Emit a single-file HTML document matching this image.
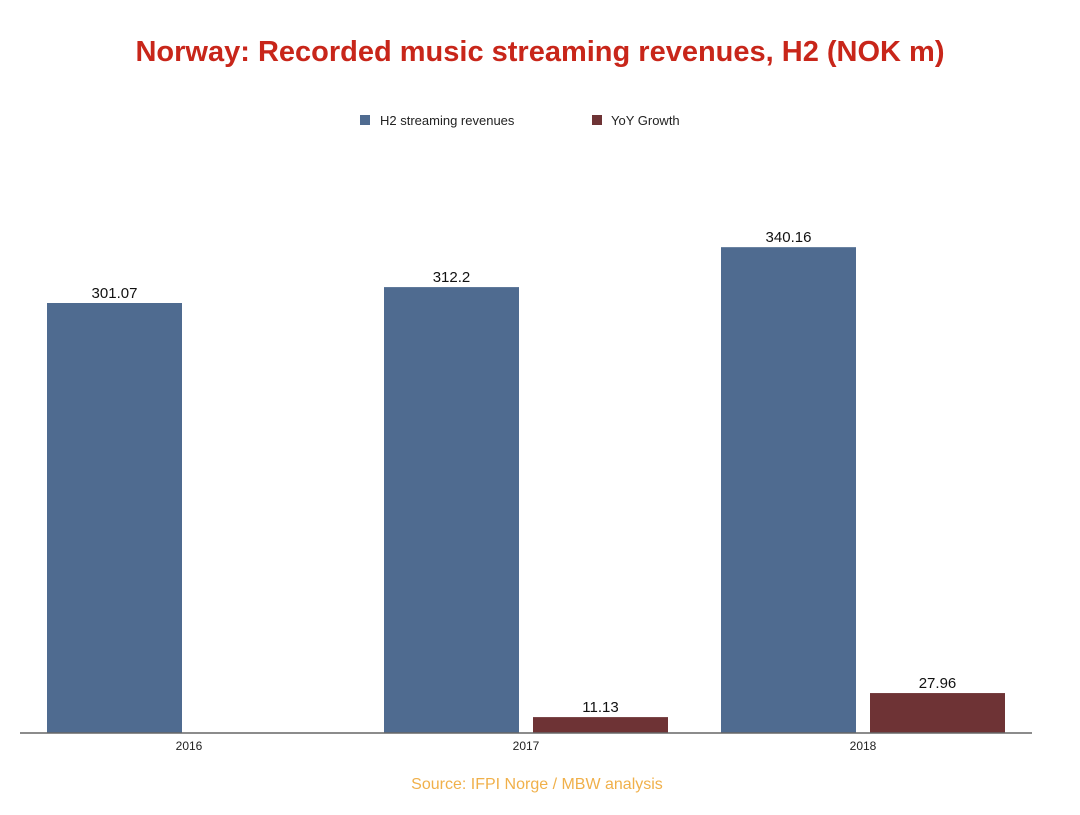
<!DOCTYPE html>
<html><head><meta charset="utf-8">
<style>
body{margin:0;background:#fff;font-family:"Liberation Sans",sans-serif;}
svg text{font-family:"Liberation Sans",sans-serif;}
</style></head>
<body>
<svg width="1080" height="810" viewBox="0 0 1080 810" xmlns="http://www.w3.org/2000/svg">
<text x="540" y="61" text-anchor="middle" font-size="29" font-weight="bold" fill="#c8261a">Norway: Recorded music streaming revenues, H2 (NOK m)</text>
<g>
<rect x="360" y="115" width="10" height="10" fill="#4f6b90"/>
<text x="380" y="125" font-size="13" fill="#222">H2 streaming revenues</text>
<rect x="592" y="115" width="10" height="10" fill="#6e3335"/>
<text x="611" y="125" font-size="13" fill="#222">YoY Growth</text>
</g>
<g id="plot"></g>
<line x1="20" y1="733" x2="1032" y2="733" stroke="#666" stroke-width="1.5"/>
<text x="537" y="789" text-anchor="middle" font-size="16" fill="#f0b04a">Source: IFPI Norge / MBW analysis</text>
</svg>
<script>
const categories = ["2016","2017","2018"];
const streaming = [301.07, 312.2, 340.16];
const growth = [null, 11.13, 27.96];
const valueLabels = ["301.07","312.2","340.16"];
const growthLabels = ["", "11.13", "27.96"];

const NS="http://www.w3.org/2000/svg";
const plot=document.getElementById('plot');
const baseY=733, scale=430/301.07;
const groupStart=47, groupW=337, barW=135, gap=14;
function yPos(v){return baseY - v*scale;}
function xGroup(i){return groupStart + i*groupW;}
function mk(tag,attrs){const e=document.createElementNS(NS,tag);for(const k in attrs)e.setAttribute(k,attrs[k]);return e;}
categories.forEach((c,i)=>{
  const x0=xGroup(i);
  const y=yPos(streaming[i]);
  const b=mk('rect',{x:x0,y:y,width:barW,height:baseY-y,fill:'#4f6b90'});
  
  
  plot.appendChild(b);
  const t=mk('text',{x:x0+barW/2,y:y-5,'text-anchor':'middle','font-size':'15',fill:'#111'});
  t.textContent=valueLabels[i];
  
  
  plot.appendChild(t);
  if(growth[i]!=null){
    const gx=x0+barW+gap, gy=yPos(growth[i]);
    const g=mk('rect',{x:gx,y:gy,width:barW,height:baseY-gy,fill:'#6e3335'});
    
    
    plot.appendChild(g);
    const gt=mk('text',{x:gx+barW/2,y:gy-5,'text-anchor':'middle','font-size':'15',fill:'#111'});
    gt.textContent=growthLabels[i];
    
    
    plot.appendChild(gt);
  }
  const xl=mk('text',{x:x0+(2*barW+gap)/2,y:baseY+17,'text-anchor':'middle','font-size':'12',fill:'#222'});
  xl.textContent=c;
  
  
  plot.appendChild(xl);
});
</script>
</body></html>
